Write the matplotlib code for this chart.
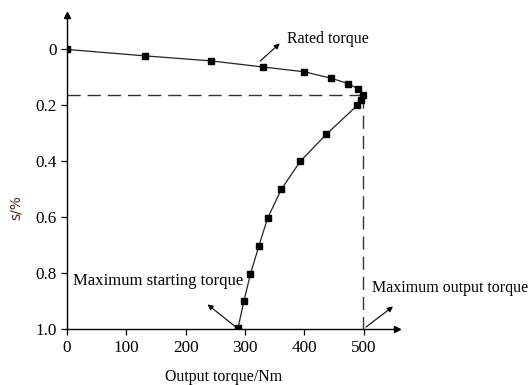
import matplotlib
matplotlib.use('Agg')
import matplotlib.pyplot as plt

# 数据
torque = [0, 131, 243, 331, 400, 445, 474, 491, 498,
          496, 489, 437, 393, 361, 338, 323, 309, 298, 288]
slip = [0.0, 0.023, 0.041, 0.063, 0.080, 0.103, 0.122, 0.142, 0.162,
        0.180, 0.200, 0.303, 0.400, 0.500, 0.603, 0.704, 0.803, 0.900, 0.997]
x_ticks = [0, 100, 200, 300, 400, 500]
y_ticks = [0, 0.2, 0.4, 0.6, 0.8, 1.0]
y_tick_labels = ['0', '0.2', '0.4', '0.6', '0.8', '1.0']
max_torque = 498
max_slip = 0.162

plt.rcParams['font.family'] = ['Liberation Serif', 'DejaVu Serif']

fig = plt.figure(figsize=(5.29, 3.85), dpi=100)
ax = fig.add_axes([67 / 529, 1 - 329.3 / 385, (397 - 67) / 529, (329.3 - 15) / 385])

ax.plot(torque, slip, color='#222222', lw=0.9, marker='s', ms=4.5,
        mfc='black', mec='black', zorder=3)

# 虚线
ax.plot([0, max_torque], [max_slip, max_slip], color='#333333', lw=1,
        dashes=(9.5, 5))
ax.plot([max_torque, max_torque], [max_slip, 1.0], color='#333333', lw=1,
        dashes=(9.5, 5))

ax.set_xlim(0, 556)
ax.set_ylim(1.0, -0.123)
ax.set_xticks(x_ticks)
ax.set_yticks(y_ticks)
ax.set_yticklabels(y_tick_labels)
ax.tick_params(labelsize=12.3, length=4, width=0.9, colors='black')

for s in ['top', 'right']:
    ax.spines[s].set_visible(False)
for s in ['left', 'bottom']:
    ax.spines[s].set_linewidth(1)

# 坐标轴箭头
ax.plot(1, 0, marker='>', color='black', ms=5, transform=ax.transAxes, clip_on=False)
ax.plot(0, 1, marker='^', color='black', ms=5, transform=ax.transAxes, clip_on=False)

ax.set_xlabel('Output torque/Nm', fontsize=11.4)
ax.xaxis.set_label_coords(0.473, -0.125)
ax.set_ylabel('s/%', fontsize=10, family='DejaVu Sans', color='#4a2a1a')
ax.yaxis.set_label_coords(-0.133, 0.386)

arrow = dict(arrowstyle='-|>', color='black', lw=0.8, mutation_scale=8)
ax.annotate('', xy=(362, -0.028), xytext=(322, 0.048), arrowprops=arrow)
ax.text(370, -0.036, 'Rated torque', fontsize=11.5, va='center', ha='left')
ax.annotate('', xy=(233, 0.905), xytext=(287, 0.996), arrowprops=arrow)
ax.text(10, 0.829, 'Maximum starting torque', fontsize=12, va='center', ha='left')
ax.annotate('', xy=(553, 0.9125), xytext=(500, 0.998), arrowprops=arrow)
ax.text(514, 0.851, 'Maximum output torque', fontsize=11.5, va='center', ha='left',
        clip_on=False)

fig.savefig('out.png', dpi=100)
